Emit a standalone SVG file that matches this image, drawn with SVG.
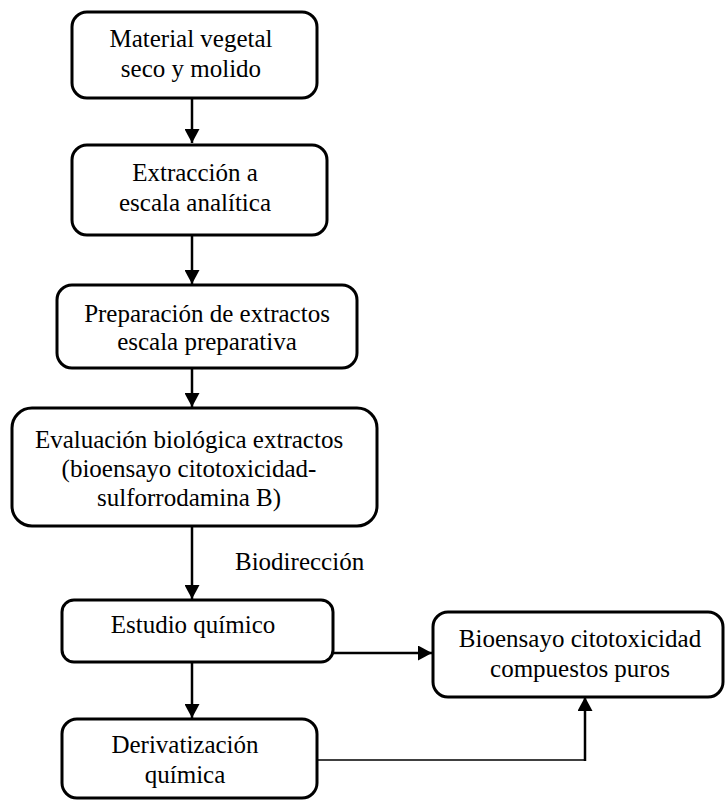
<svg xmlns="http://www.w3.org/2000/svg" width="726" height="801" viewBox="0 0 726 801">
<style>
.box{fill:#fff;stroke:#000;stroke-width:3}
.t{font-family:"Liberation Serif","Times New Roman",serif;font-size:25px;fill:#000;text-anchor:middle}
.c{fill:none;stroke:#000;stroke-width:2.5}
.thin{fill:none;stroke:#000;stroke-width:1.6}
</style>
<defs>
<marker id="ah" markerUnits="userSpaceOnUse" markerWidth="15" markerHeight="15" refX="14" refY="7.5" orient="auto" viewBox="0 0 15 15">
<path d="M0,0 L14,7.5 L0,15 z" fill="#000"/>
</marker>
</defs>
<rect width="726" height="801" fill="#fff"/>
<g id="connectors">
<line class="c" x1="192" y1="98" x2="192" y2="143" marker-end="url(#ah)"/>
<line class="c" x1="192" y1="235" x2="192" y2="284" marker-end="url(#ah)"/>
<line class="c" x1="192" y1="368" x2="192" y2="407" marker-end="url(#ah)"/>
<line class="c" x1="192" y1="526" x2="192" y2="599" marker-end="url(#ah)"/>
<line class="c" x1="192" y1="662" x2="192" y2="718" marker-end="url(#ah)"/>
<line class="c" x1="333" y1="653" x2="432" y2="653" marker-end="url(#ah)"/>
<polyline class="thin" points="317,760 585,760"/>
<line class="c" x1="585" y1="761" x2="585" y2="697" marker-end="url(#ah)"/>
</g>
<g id="n1"><rect class="box" x="72" y="12" width="245" height="86" rx="15"/>
<text class="t" x="191" y="47">Material vegetal</text><text class="t" x="191" y="77">seco y molido</text></g>
<g id="n2"><rect class="box" x="72" y="145" width="255" height="90" rx="15"/>
<text class="t" x="195" y="181">Extracción a</text><text class="t" x="195" y="211">escala analítica</text></g>
<g id="n3"><rect class="box" x="57" y="285" width="300" height="83" rx="15"/>
<text class="t" x="207" y="322">Preparación de extractos</text><text class="t" x="207" y="350">escala preparativa</text></g>
<g id="n4"><rect class="box" x="12" y="408" width="365" height="118" rx="20"/>
<text class="t" x="189" y="448">Evaluación biológica extractos</text><text class="t" x="189" y="477">(bioensayo citotoxicidad-</text><text class="t" x="189" y="506">sulforrodamina B)</text></g>
<g id="label"><text class="t" x="235" y="570" style="text-anchor:start">Biodirección</text></g>
<g id="n5"><rect class="box" x="62" y="600" width="271" height="62" rx="12"/>
<text class="t" x="193" y="633">Estudio químico</text></g>
<g id="n6"><rect class="box" x="433" y="612" width="290" height="85" rx="15"/>
<text class="t" x="580" y="647">Bioensayo citotoxicidad</text><text class="t" x="580" y="677">compuestos puros</text></g>
<g id="n7"><rect class="box" x="62" y="719" width="255" height="79" rx="15"/>
<text class="t" x="185" y="753">Derivatización</text><text class="t" x="185" y="783">química</text></g>
</svg>
